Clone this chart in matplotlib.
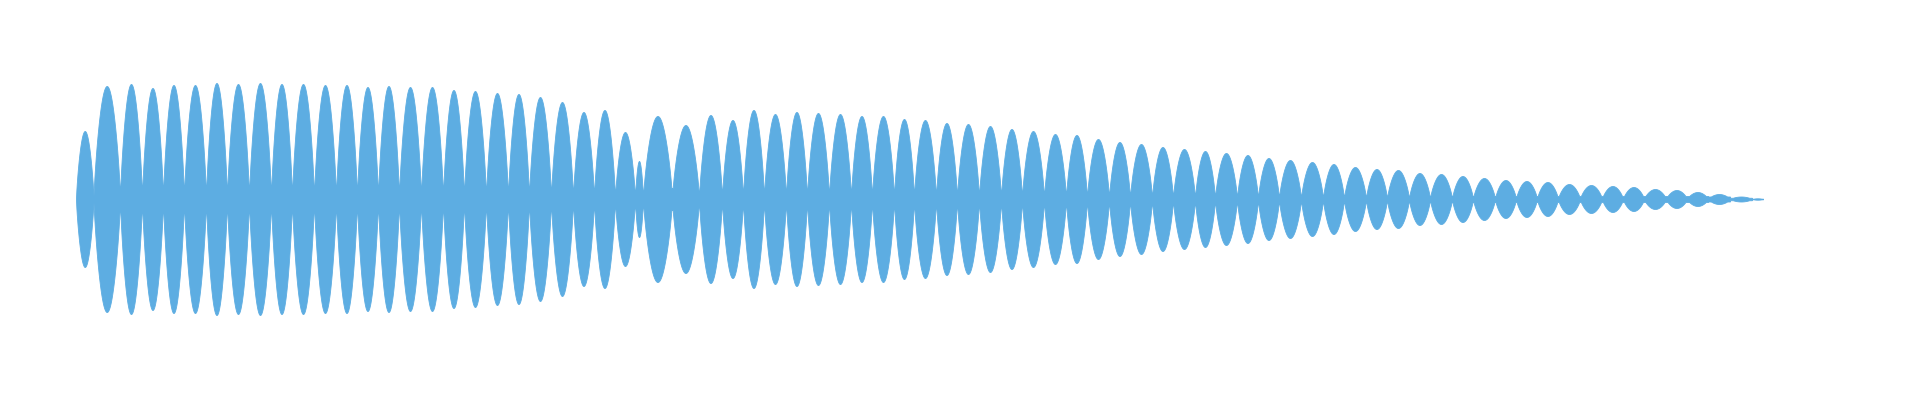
import numpy as np
import matplotlib
matplotlib.use("Agg")
import matplotlib.pyplot as plt

# waveform lobes: boundaries (frames) and peak amplitude of each lobe
lobe_edges = [0, 17.5, 44, 66, 87, 108, 130, 151, 173, 195, 216, 238, 260, 281, 302,
              323, 345, 367, 388, 410, 432, 453, 475, 497, 518, 539, 559, 567, 596, 623,
              646, 667, 688, 710, 731, 753, 775, 796, 818, 838, 860, 881, 903, 925, 946,
              968, 990, 1011, 1033, 1054, 1076, 1097, 1119, 1139, 1161, 1182, 1203, 1225,
              1247, 1268, 1290, 1311, 1333, 1354, 1376, 1397, 1419, 1440, 1461, 1482,
              1504, 1526, 1547, 1568, 1590, 1611, 1632, 1654, 1676, 1687]
lobe_peaks = [68, 113, 115, 111, 114, 114, 116, 115, 116, 115,
              115, 114, 114, 112, 113, 112, 112, 109, 108, 106,
              105, 102, 97, 87, 89, 67, 38, 83, 74, 84,
              79, 89, 85, 87, 86, 85, 83, 83, 80, 79,
              76, 75, 73, 70, 68, 65, 64, 60, 57, 55,
              52, 50, 48, 46, 44, 41, 39, 37, 35, 32,
              30, 29, 26, 25, 23, 21, 19, 18, 17, 15,
              14, 13, 12, 10, 9, 7, 5, 2.5, 0.7]
# residual amplitude left at the nodes between lobes
node_floor = 3
wide_nodes = {26: 5, 27: 5, 28: 11}

color = "#5DADE2"

t = np.linspace(0, lobe_edges[-1], 8000)
env = np.zeros_like(t)
for i, peak in enumerate(lobe_peaks):
    a, b = lobe_edges[i], lobe_edges[i + 1]
    m = (t >= a) & (t <= b)
    u = (t[m] - a) / (b - a)
    # lobes are a bit fuller than a plain sine
    shape = peak * np.sin(np.pi * u) ** 0.75
    f0 = 0.5 if i == 0 else min(wide_nodes.get(i, node_floor), 0.5 * peak)
    f1 = min(wide_nodes.get(i + 1, node_floor), 0.5 * peak)
    floor = np.where(u < 0.5, f0, f1)
    env[m] = np.maximum(env[m], np.maximum(shape, floor))

fig = plt.figure(figsize=(19.2, 4), dpi=100)
ax = fig.add_axes([0, 0, 1, 1])
ax.fill_between(t, -env, env, color=color, linewidth=0.6, edgecolor=color)
ax.set_xlim(-76, 1844)
ax.set_ylim(-201, 199)
ax.axis("off")

fig.savefig("out.png", dpi=100, facecolor="white")
